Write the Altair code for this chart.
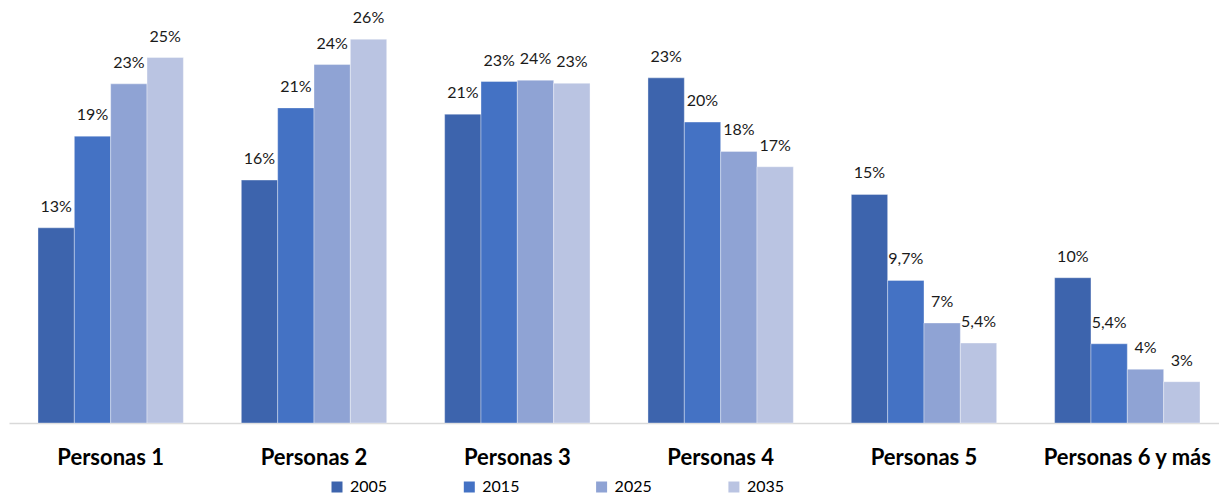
import altair as alt
import pandas as pd

categories = ["Personas 1", "Personas 2", "Personas 3", "Personas 4", "Personas 5", "Personas 6 y más"]
years = ["2005", "2015", "2025", "2035"]

v2005 = [13.33, 16.59, 21.09, 23.57, 15.61, 9.92]
v2015 = [19.59, 21.52, 23.32, 20.55, 9.74, 5.41]
v2025 = [23.16, 24.48, 23.41, 18.55, 6.83, 3.67]
v2035 = [24.96, 26.21, 23.20, 17.50, 5.46, 2.82]

l2005 = ["13%", "16%", "21%", "23%", "15%", "10%"]
l2015 = ["19%", "21%", "23%", "20%", "9,7%", "5,4%"]
l2025 = ["23%", "24%", "24%", "18%", "7%", "4%"]
l2035 = ["25%", "26%", "23%", "17%", "5,4%", "3%"]

colors = ["#3D64AD", "#4472C4", "#8FA3D4", "#BAC4E2"]

values = [v2005, v2015, v2025, v2035]
labels = [l2005, l2015, l2025, l2035]
rows = []
for yi, yr in enumerate(years):
    for ci, cat in enumerate(categories):
        rows.append({"cat": cat, "year": yr, "value": values[yi][ci], "label": labels[yi][ci]})
df = pd.DataFrame(rows)

FONT = "Lato"

x_enc = alt.X("cat:N", sort=categories, title=None,
              scale=alt.Scale(paddingInner=0.285, paddingOuter=0.1426, round=False, range=[0, 1220]),
              axis=alt.Axis(labelFont=FONT, labelFontWeight="bold", labelFontSize=22,
                            labelColor="#000000", labelAngle=0, labelBaseline="alphabetic",
                            labelPadding=41, ticks=False, grid=False,
                            domainColor="#D9D9D9", domainWidth=1.5, labelLimit=400))
xoff = alt.XOffset("year:N", sort=years, scale=alt.Scale(paddingInner=0, paddingOuter=0, round=False))
y_enc = alt.Y("value:Q", scale=alt.Scale(domain=[0, 28], nice=False, zero=True), axis=None)

base = alt.Chart(df)

bars = base.mark_bar(stroke="#ffffff", strokeWidth=0.6, strokeOpacity=0.6).encode(
    x=x_enc,
    xOffset=xoff,
    y=y_enc,
    color=alt.Color("year:N", sort=years, title=None,
                    scale=alt.Scale(domain=years, range=colors),
                    legend=alt.Legend(orient="none", legendX=320, legendY=466, direction="horizontal",
                                      columns=4, symbolType="square", symbolSize=121,
                                      symbolStrokeWidth=0, labelFont=FONT, labelFontSize=16,
                                      labelColor="#000000", labelOffset=5, columnPadding=73.3,
                                      padding=0, titlePadding=0)),
)

texts = base.mark_text(font=FONT, fontSize=16, color="#1a1a1a", align="center",
                       baseline="alphabetic", dy=-16).encode(
    x=alt.X("cat:N", sort=categories),
    xOffset=alt.XOffset("year:N", sort=years),
    y=alt.Y("value:Q"),
    text="label:N",
)

chart = alt.layer(bars, texts).properties(
    width=1210, height=410,
    autosize=alt.AutoSizeParams(type="none"),
    padding={"left": 1, "top": 5, "right": 0, "bottom": 73},
).configure_view(strokeWidth=0)

chart.save("out.html", embed_options={"renderer": "svg", "actions": False})
